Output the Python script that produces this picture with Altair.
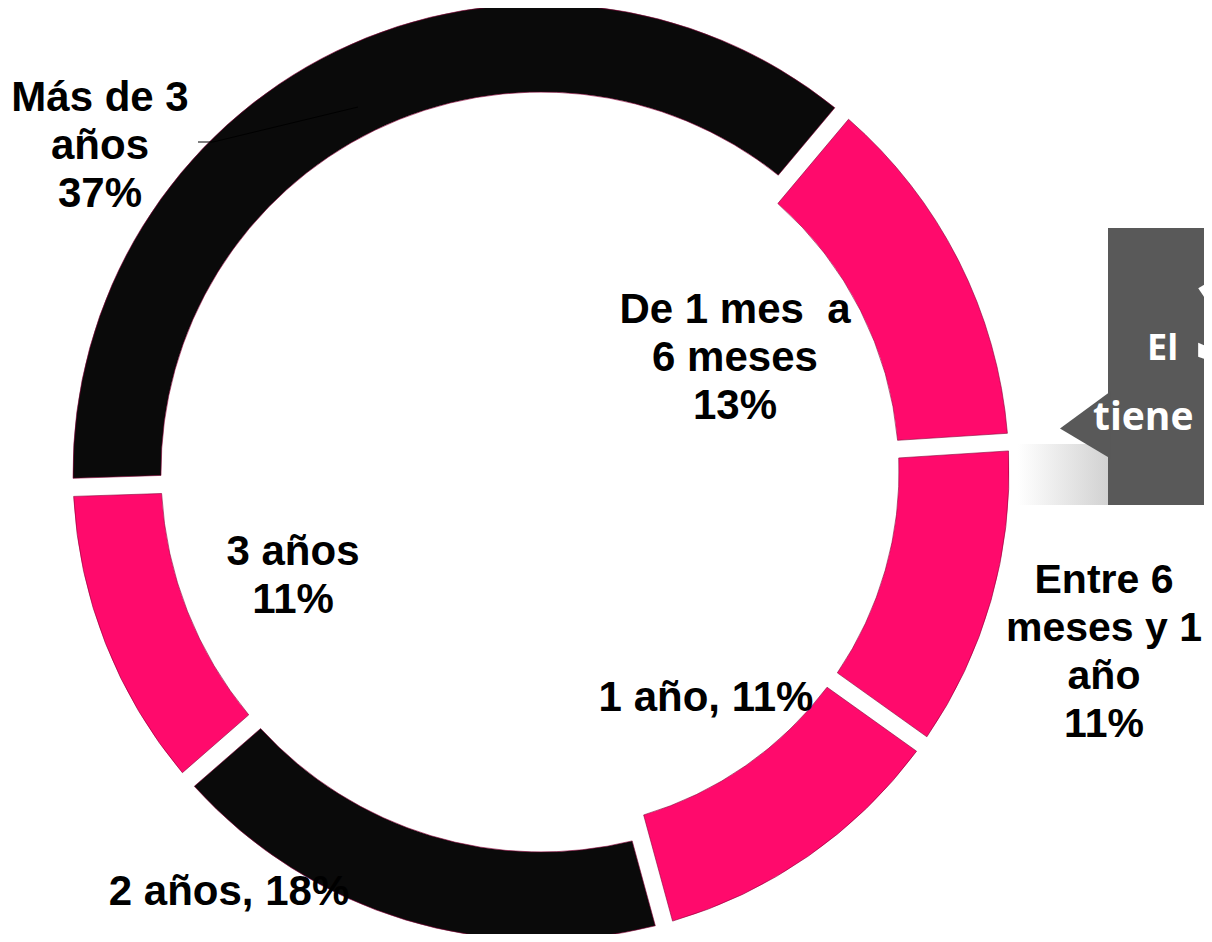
import math
import altair as alt
import pandas as pd

# ---------------- data ----------------
categories = ["De 1 mes  a 6 meses", "Entre 6 meses y 1 año", "1 año",
              "2 años", "3 años", "Más de 3 años"]
percents = [13, 11, 11, 18, 11, 37]
segment_colors = ["#FF0A6C", "#FF0A6C", "#FF0A6C", "#0A0A0A", "#FF0A6C", "#0A0A0A"]
thick_segments = ["De 1 mes  a 6 meses", "Entre 6 meses y 1 año", "1 año"]
label_names = [["De 1 mes\u00a0 a", "6 meses"], ["Entre 6", "meses y 1", "año"],
               ["1 año,"], ["2 años,"], ["3 años"], ["Más de 3", "años"]]
label_inline = [False, False, True, True, False, False]
callout_texts = ["El", "3", "tiene"]

df = pd.DataFrame({"cat": categories, "pct": percents, "idx": list(range(len(categories)))})

# ---------------- layout ----------------
W, H = 1196, 926
CX, CY = 533, 464
R_OUT, R_IN_THIN, R_IN_THICK = 468, 380, 358
START = math.radians(40)
PINK_DARK = "#8a0038"

theta = alt.Theta("pct:Q", stack=True, scale=alt.Scale(range=[START, START + 2 * math.pi]))
color = alt.Color("cat:N", scale=alt.Scale(domain=categories, range=segment_colors), legend=None)
order = alt.Order("idx:Q", sort="ascending")
is_thick = alt.FieldOneOfPredicate(field="cat", oneOf=thick_segments)

base = alt.Chart(df)
ring_thin = base.mark_arc(innerRadius=R_IN_THIN, outerRadius=R_OUT, padAngle=0.03,
                          stroke=PINK_DARK, strokeWidth=0.6).encode(
    theta=theta, color=color, order=order,
    x=alt.value(CX), y=alt.value(CY),
    opacity=alt.condition(is_thick, alt.value(0), alt.value(1)),
)
ring_thick = base.mark_arc(innerRadius=R_IN_THICK, outerRadius=R_OUT, padAngle=0.03,
                           stroke=PINK_DARK, strokeWidth=0.6).encode(
    theta=theta, color=color, order=order,
    x=alt.value(CX), y=alt.value(CY),
    opacity=alt.condition(is_thick, alt.value(1), alt.value(0)),
)

one = pd.DataFrame({"k": [0]})

def label(lines, x, y, size=42):
    return alt.Chart(one).mark_text(
        text=lines, align="center", baseline="alphabetic", font="Liberation Sans",
        fontWeight="bold", fontSize=size, lineHeight=48, color="black"
    ).encode(x=alt.value(x), y=alt.value(y))

label_pos = [(727, 315), (1096, 585), (698, 703), (221, 897), (285, 557), (92, 103)]
label_size = [42, 41, 42, 42, 42, 42]
labels = []
for names, inline, p, (lx, ly), sz in zip(label_names, label_inline, percents, label_pos, label_size):
    if inline:
        lines = [names[0] + " " + f"{p}%"]
    else:
        lines = names + [f"{p}%"]
    labels.append(label(lines, lx, ly, sz))

leader1 = alt.Chart(one).mark_rule(color="black", strokeWidth=1).encode(
    x=alt.value(190), y=alt.value(134), x2=alt.value(205), y2=alt.value(134))
leader2 = alt.Chart(one).mark_rule(color="black", strokeWidth=1).encode(
    x=alt.value(205), y=alt.value(134), x2=alt.value(350), y2=alt.value(99))

# callout box (partially off the right edge, as in the reference)
shadow = alt.Chart(one).mark_rect(
    color=alt.Gradient(gradient="linear", x1=0, x2=1, y1=0, y2=0,
                       stops=[alt.GradientStop(color="#ffffff", offset=0),
                              alt.GradientStop(color="#d2d2d2", offset=1)])
).encode(x=alt.value(1010), x2=alt.value(1100), y=alt.value(436), y2=alt.value(497))
box = alt.Chart(one).mark_rect(color="#595959").encode(
    x=alt.value(1100), x2=alt.value(1220), y=alt.value(220), y2=alt.value(497))
pointer = alt.Chart(one).mark_point(
    shape="M1.1,-1.4V1.4L-1,0.15Z", filled=True, size=2304, color="#595959",
    opacity=1, strokeWidth=0
).encode(x=alt.value(1076), y=alt.value(417))

t_el = alt.Chart(one).mark_text(text=callout_texts[0], align="left", baseline="alphabetic",
                                font="Open Sans", fontWeight="bold", fontSize=36, color="white"
                                ).encode(x=alt.value(1139), y=alt.value(352))
t_3 = alt.Chart(one).mark_text(text=callout_texts[1], align="left", baseline="alphabetic",
                               font="Open Sans", fontWeight="bold", fontSize=110, color="white"
                               ).encode(x=alt.value(1186), y=alt.value(352))
t_tiene = alt.Chart(one).mark_text(text=callout_texts[2], align="left", baseline="alphabetic",
                                   font="Open Sans", fontWeight="bold", fontSize=39, color="white"
                                   ).encode(x=alt.value(1085), y=alt.value(422))

chart = alt.layer(
    ring_thin, ring_thick, *labels, leader1, leader2,
    shadow, box, pointer, t_el, t_3, t_tiene
).properties(
    width=W, height=H, padding=0, autosize="none", background="white"
).configure_view(stroke=None)

chart.save("out.html", embed_options={"renderer": "svg", "actions": False})
